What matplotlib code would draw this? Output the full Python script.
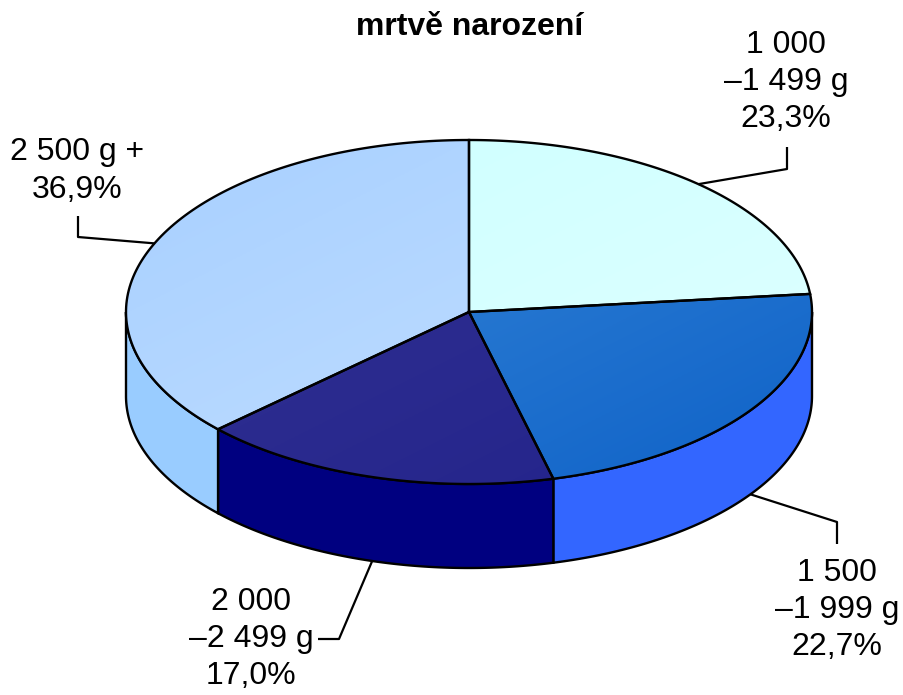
import numpy as np
import matplotlib.pyplot as plt
from matplotlib.patches import Polygon
from matplotlib.colors import LinearSegmentedColormap

plt.rcParams['font.family'] = ['Liberation Sans', 'DejaVu Sans']

title = 'mrtvě narození'
labels = ['1 000\n–1 499 g', '1 500\n–1 999 g', '2 000\n–2 499 g', '2 500 g +']
shares = [23.3, 22.7, 17.0, 36.9]

top_colors = [('#ccffff', '#e0ffff'), ('#3a8ad8', '#0f62c8'),
              ('#343494', '#22228a'), ('#a8d0ff', '#c4e0ff')]
side_colors = ['#ccffff', '#3366ff', '#000080', '#99ccff']

# label layout: (elbow, end, text position)
label_layout = [
    ((787, 169), (787, 147), (786, 82)),
    ((837, 522), (837, 544), (837, 610)),
    ((339, 639), (318, 639), (251, 639)),
    ((78, 237), (78, 216), (77, 171)),
]

cx, cy, rx, ry, depth = 469, 312, 343, 172, 84


def pt(t, dy=0):
    r = np.radians(t)
    return cx + rx * np.cos(r), cy - ry * np.sin(r) + dy


def arc(a, b, dy=0, n=120):
    ts = np.linspace(a, b, n)
    return [pt(t, dy) for t in ts]


fig = plt.figure(figsize=(9.04, 6.95), dpi=100)
ax = fig.add_axes([0, 0, 1, 1])
ax.axis('off')

bounds = 90 - 360 * np.concatenate([[0], np.cumsum(shares)]) / sum(shares)

# sides (front half only)
for i in range(len(shares)):
    hi, lo = bounds[i], bounds[i + 1]
    a, b = max(lo, -180), min(hi, 0)
    if a >= b:
        continue
    pts = arc(b, a) + arc(a, b, depth)
    ax.add_patch(Polygon(pts, closed=True, facecolor=side_colors[i],
                         edgecolor='black', lw=1.7, zorder=2))

# tops with a light gradient
for i in range(len(shares)):
    hi, lo = bounds[i], bounds[i + 1]
    pts = [(cx, cy)] + arc(hi, lo)
    poly = Polygon(pts, closed=True, facecolor='none', edgecolor='black',
                   lw=1.7, zorder=4)
    ax.add_patch(poly)
    cmap = LinearSegmentedColormap.from_list('g', top_colors[i])
    gx, gy = np.meshgrid(np.linspace(0, 1, 200), np.linspace(0, 1, 200))
    grad = (gx + (1 - gy)) / 2
    im = ax.imshow(grad, cmap=cmap, extent=[cx - rx, cx + rx, cy + ry, cy - ry],
                   origin='lower', zorder=3, interpolation='bilinear', aspect='auto')
    im.set_clip_path(poly)

ax.set_xlim(0, 904)
ax.set_ylim(695, 0)

# labels and leader lines
for i in range(len(shares)):
    mid = (bounds[i] + bounds[i + 1]) / 2
    dy = depth if np.sin(np.radians(mid)) < 0 else 0
    x0, y0 = pt(mid, dy)
    elbow, end, tpos = label_layout[i]
    ax.plot([x0, elbow[0], end[0]], [y0, elbow[1], end[1]], color='black',
            lw=1.6, zorder=5, solid_capstyle='butt')
    txt = f'{labels[i]}\n{shares[i]:.1f}%'.replace('.', ',')
    ax.text(tpos[0], tpos[1], txt, ha='center', va='center', fontsize=23,
            linespacing=1.32, multialignment='center', zorder=6)

ax.text(470, 27, title, ha='center', va='center', fontsize=23,
        fontweight='bold')

fig.savefig('out.png', dpi=100)
